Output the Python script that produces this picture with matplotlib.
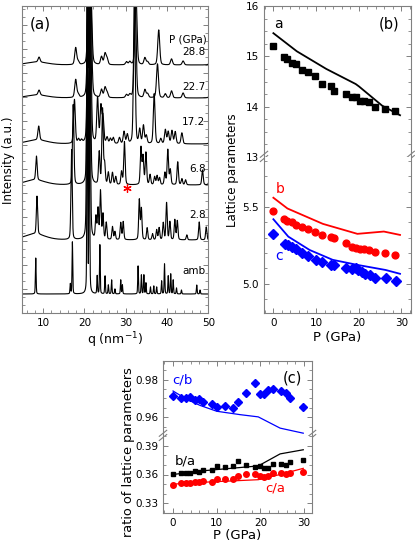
import numpy as np
import matplotlib
matplotlib.use("Agg")
import matplotlib.pyplot as plt
from matplotlib.ticker import MultipleLocator, NullFormatter

plt.rcParams['font.family'] = ['DejaVu Sans']

# ---------------- Panel (a): XRD patterns (peak lists) ----------
labels_a = ["amb", "2.8", "6.8", "17.2", "22.7", "28.8"]
offsets_a = [19, 73, 128, 169, 215, 248]
widths_a = [0.10, 0.18, 0.20, 0.24, 0.28, 0.28]

amb_pos = [8.23, 16.6, 17.1, 20.7, 21.2, 23.1, 23.75, 25.0, 25.8, 26.6, 27.4, 28.8, 29.2,
           33.0, 33.8, 34.4, 34.9, 36.0, 36.8, 37.5, 38.7, 39.4, 40.3, 40.9, 41.5, 42.3,
           43.5, 47.2, 48.0]
amb_hgt = [36, 10, 52, 300, 300, 18, 49, 18, 9, 14, 5, 14, 9,
           28, 19, 19, 11, 7, 8, 7, 13, 30, 18, 20, 14, 6,
           4, 9, 4]

p28_pos = [8.0, 8.53, 16.9, 20.7, 21.3, 22.8, 23.3, 23.9, 24.5, 25.3, 26.8, 27.4, 28.8, 29.4,
           33.3, 33.8, 35.2, 36.5, 37.5, 38.1, 39.1, 39.9, 40.7, 41.9, 42.5, 44.8, 47.8, 49.5]
p28_hgt = [6, 38, 90, 250, 250, 22, 30, 48, 25, 17, 13, 8, 17, 18,
           40, 31, 12, 6, 10, 12, 17, 37, 18, 20, 19, 5, 18, 13]

p68_pos = [8.0, 8.4, 17.3, 20.8, 21.35, 23.6, 24.4, 24.9, 25.8, 26.8, 27.6, 29.0, 29.7,
           33.7, 34.2, 34.9, 35.9, 37.0, 37.6, 38.2, 39.5, 40.2, 40.8, 42.6, 43.6, 44.5,
           48.6, 50.4]
p68_hgt = [5, 24, 80, 200, 200, 32, 75, 20, 12, 12, 8, 13, 43,
           37, 28, 32, 10, 8, 9, 7, 12, 35, 15, 23, 6, 5,
           15, 16]

p172_pos = [8.5, 8.95, 17.6, 18.6, 19.3, 20.9, 21.45, 23.2, 24.0, 24.5, 25.5, 26.3, 27.0,
            28.5, 29.6, 30.4, 32.1, 33.4, 34.3, 35.0, 36.9, 38.5, 39.6, 40.3, 41.2, 42.0,
            43.6, 50.6]
p172_hgt = [4, 14, 44, 4, 3, 150, 150, 45, 36, 26, 6, 5, 6,
            6, 12, 9, 150, 14, 18, 8, 50, 5, 14, 12, 13, 12,
            11, 16]

p227_pos = [8.5, 9.03, 17.9, 18.5, 20.95, 21.55, 24.15, 25.0, 25.5, 30.2, 31.0, 32.3,
            34.65, 35.3, 37.7, 39.6, 41.1, 43.9, 50.6]
p227_hgt = [3, 5, 18, 3, 100, 100, 8, 10, 5, 3, 3, 100,
            8, 4, 34, 4, 7, 5, 12]

p288_pos = [8.5, 9.03, 17.9, 18.5, 21.0, 21.6, 24.15, 25.0, 25.5, 30.2, 31.0, 32.5,
            34.65, 35.3, 38.0, 41.1, 43.9, 50.6]
p288_hgt = [3, 5, 17, 3, 70, 70, 8, 11, 6, 3, 3, 70,
            7, 3, 35, 6, 4, 12]

hump_width = 3.0

# ---------------- Panel (b): lattice parameters -------------------------
P_exp = [0.0, 2.6, 3.3, 4.3, 5.2, 6.8, 8.2, 9.8, 11.5, 13.6, 14.3, 17.0, 18.5, 19.3,
         20.3, 21.2, 22.4, 23.8, 26.1, 28.6]
a_exp = [15.21, 14.98, 14.94, 14.87, 14.84, 14.73, 14.69, 14.61, 14.46, 14.41, 14.31,
         14.25, 14.20, 14.20, 14.12, 14.11, 14.10, 13.99, 13.96, 13.92]
b_exp = [5.476, 5.42, 5.411, 5.403, 5.385, 5.372, 5.355, 5.34, 5.32, 5.307, 5.297,
         5.268, 5.238, 5.234, 5.229, 5.225, 5.221, 5.21, 5.20, 5.19]
P_c = [0.0, 2.8, 3.4, 4.3, 5.3, 6.8, 8.2, 9.9, 11.5, 13.6, 14.3, 17.0, 18.5, 19.3,
       19.9, 20.7, 21.4, 22.6, 23.8, 26.3, 28.7]
c_exp = [5.325, 5.26, 5.25, 5.24, 5.225, 5.203, 5.18, 5.156, 5.145, 5.12, 5.12, 5.105,
         5.095, 5.10, 5.087, 5.076, 5.065, 5.057, 5.037, 5.037, 5.02]

P_a_calc = [0.0, 5.5, 12.4, 19.3, 20.1, 25.5, 29.7]
a_calc = [15.46, 15.10, 14.75, 14.45, 14.40, 14.02, 13.83]
P_b_calc = [0.0, 3.3, 11.6, 19.7, 25.9, 29.7]
b_calc = [5.56, 5.49, 5.39, 5.325, 5.34, 5.318]
P_c_calc = [0.0, 3.5, 8.5, 13.9, 19.7, 26.3, 29.7]
c_calc = [5.42, 5.307, 5.22, 5.156, 5.123, 5.09, 5.065]

# ---------------- Panel (c): ratios --------------------------------------
P_r = [0.0, 1.8, 2.9, 3.9, 5.0, 5.9, 6.9, 8.9, 10.0, 11.9, 13.8, 14.8, 16.8, 18.8,
       19.9, 20.9, 21.8, 22.8, 24.7, 25.8, 26.8, 29.8]
cb_exp = [0.9714, 0.9703, 0.9700, 0.9708, 0.9692, 0.9697, 0.9680, 0.9672, 0.9652,
          0.9658, 0.9647, 0.9683, 0.9731, 0.9785, 0.9726, 0.9724, 0.9746, 0.9750,
          0.9740, 0.9731, 0.9700, 0.9654]
ba_exp = [0.3600, 0.3618, 0.3618, 0.3618, 0.3632, 0.3629, 0.3650, 0.3650, 0.3689,
          0.3682, 0.3689, 0.3743, 0.3700, 0.3682, 0.3689, 0.3671, 0.3671, 0.3714,
          0.3714, 0.3700, 0.3729, 0.3753]
ca_exp = [0.3493, 0.3511, 0.3514, 0.3511, 0.3522, 0.3522, 0.3536, 0.3525, 0.3557,
          0.3557, 0.3557, 0.3582, 0.3604, 0.3604, 0.3589, 0.3575, 0.3589, 0.3618,
          0.3618, 0.3604, 0.3618, 0.3625]
P_r_calc = [0.0, 3.1, 6.2, 10.0, 15.3, 19.5, 24.5, 29.8]
cb_calc = [0.9740, 0.9696, 0.9663, 0.9632, 0.9614, 0.9602, 0.9542, 0.9515]
P_r_calc2 = [0.0, 6.2, 19.5, 24.5, 29.8]
ba_calc = [0.3600, 0.3636, 0.3689, 0.3814, 0.3857]
ca_calc = [0.3500, 0.3518, 0.3546, 0.3600, 0.3664]

RED = '#ff0000'
BLUE = '#0000ff'
SPINE = '#808080'
W, H = 415, 547
TICK_FS = 7.5

fig = plt.figure(figsize=(W / 100, H / 100), dpi=100)


def rect(x0, x1, y0, y1):
    return [x0 / W, 1 - y1 / H, (x1 - x0) / W, (y1 - y0) / H]


def style(ax, top=True, bottom=True):
    for s in ax.spines.values():
        s.set_color(SPINE)
        s.set_linewidth(0.8)
    ax.tick_params(which='both', direction='in', colors=SPINE, labelcolor='black',
                   labelsize=TICK_FS, top=top, bottom=bottom, left=True, right=True)
    ax.tick_params(which='major', length=3.5, width=0.7)
    ax.tick_params(which='minor', length=2, width=0.6)


def pv(q, pos, hgt, w):
    y = np.zeros_like(q)
    for p, h in zip(pos, hgt):
        ww = hump_width if (p in (8.0, 8.5) and h <= 6) else w
        x = (q - p) / ww
        y += h * (0.7 * np.exp(-np.log(2) * x * x) + 0.3 / (1 + x * x))
    return y


# ---------------- Panel (a) ----------------
axa = fig.add_axes(rect(22.4, 208.3, 6, 313))
q = np.linspace(5, 50, 4000)
pos_all = [amb_pos, p28_pos, p68_pos, p172_pos, p227_pos, p288_pos]
hgt_all = [amb_hgt, p28_hgt, p68_hgt, p172_hgt, p227_hgt, p288_hgt]
for pos, hgt, off, w in zip(pos_all, hgt_all, offsets_a, widths_a):
    axa.plot(q, off + pv(q, pos, hgt, w), color='black', lw=0.8)
axa.set_xlim(5, 50)
axa.set_ylim(0, 307)
axa.xaxis.set_major_locator(MultipleLocator(10))
axa.xaxis.set_minor_locator(MultipleLocator(2))
axa.yaxis.set_major_locator(MultipleLocator(24))
axa.yaxis.set_minor_locator(MultipleLocator(8))
axa.yaxis.set_major_formatter(NullFormatter())
style(axa)
axa.set_xlabel(r'q (nm$^{-1}$)', fontsize=9, labelpad=2)
fig.text(8.5 / W, 1 - 160 / H, 'Intensity (a.u.)', rotation=90, fontsize=8.6,
         ha='center', va='center')
axa.text(0.04, 0.94, '(a)', transform=axa.transAxes, fontsize=11, va='center', ha='left')
lab_y = [271, 215, 169, 122, 87, 52]
for lab, yy in zip(labels_a, lab_y):
    axa.text(0.985, 1 - (yy - 6) / 307, lab, transform=axa.transAxes, fontsize=7.5,
             ha='right', va='center')
axa.text(0.99, 1 - (39 - 6) / 307, 'P (GPa)', transform=axa.transAxes, fontsize=7.5,
         ha='right', va='center')
axa.plot([30.2], [125], marker=(6, 2, 0), color=RED, ms=6, mew=0.9, ls='none')

# ---------------- Panel (b) ----------------
axb1 = fig.add_axes(rect(264, 410.7, 6, 157))
axb2 = fig.add_axes(rect(264, 410.7, 157, 313))
axb1.plot(P_a_calc, a_calc, color='black', lw=1.3)
axb1.plot(P_exp, a_exp, 's', color='black', ms=4.4)
axb2.plot(P_b_calc, b_calc, color=RED, lw=1.3)
axb2.plot(P_exp, b_exp, 'o', color=RED, ms=4.9)
axb2.plot(P_c_calc, c_calc, color=BLUE, lw=1.3)
axb2.plot(P_c, c_exp, 'D', color=BLUE, ms=5.0)
for ax in (axb1, axb2):
    ax.set_xlim(-2.2, 32.2)
    ax.xaxis.set_major_locator(MultipleLocator(10))
    ax.xaxis.set_minor_locator(MultipleLocator(2))
axb1.set_ylim(13, 16)
axb1.yaxis.set_major_locator(MultipleLocator(1))
axb1.yaxis.set_minor_locator(MultipleLocator(0.25))
axb2.set_ylim(4.81, 5.825)
axb2.yaxis.set_major_locator(MultipleLocator(0.5))
axb2.yaxis.set_minor_locator(MultipleLocator(0.1))
axb2.yaxis.set_major_formatter(plt.FormatStrFormatter('%.1f'))
style(axb1, top=True, bottom=False)
style(axb2, top=False, bottom=True)
axb1.spines['bottom'].set_visible(False)
axb2.spines['top'].set_visible(False)
axb1.tick_params(labelbottom=False)
axb2.set_xlabel('P (GPa)', fontsize=9.5, labelpad=2)
axb1.text(0.1, 0.88, 'a', transform=axb1.transAxes, fontsize=10, ha='center', va='center')
axb1.text(0.85, 0.88, '(b)', transform=axb1.transAxes, fontsize=10.5, ha='center', va='center')
axb2.text(0.11, 0.795, 'b', transform=axb2.transAxes, fontsize=10, color=RED,
          ha='center', va='center')
axb2.text(0.105, 0.365, 'c', transform=axb2.transAxes, fontsize=10, color=BLUE,
          ha='center', va='center')
fig.text(232 / W, 1 - 170 / H, 'Lattice parameters', rotation=90, fontsize=8.6,
         ha='center', va='center')


def breaks(ax_up, hfrac):
    dx, dy = 0.025, 0.02 / hfrac
    for xc in (0, 1):
        for sh in (-0.5 * dy, 0.9 * dy):
            ax_up.plot([xc - dx, xc + dx], [sh - dy, sh + dy], transform=ax_up.transAxes,
                       color=SPINE, lw=0.8, clip_on=False)


breaks(axb1, 1.0)

# ---------------- Panel (c) ----------------
axc1 = fig.add_axes(rect(163, 312, 361, 436))
axc2 = fig.add_axes(rect(163, 312, 436, 513))
axc1.plot(P_r_calc, cb_calc, color=BLUE, lw=0.9)
axc1.plot(P_r, cb_exp, 'D', color=BLUE, ms=4.2)
axc2.plot(P_r_calc2, ba_calc, color='black', lw=0.9)
axc2.plot(P_r, ba_exp, 's', color='black', ms=3.4)
axc2.plot(P_r_calc2, ca_calc, color=RED, lw=0.9)
axc2.plot(P_r, ca_exp, 'o', color=RED, ms=4.0)
for ax in (axc1, axc2):
    ax.set_xlim(-2.3, 31.8)
    ax.xaxis.set_major_locator(MultipleLocator(10))
    ax.xaxis.set_minor_locator(MultipleLocator(2))
axc1.set_ylim(0.95, 0.99)
axc1.yaxis.set_major_locator(MultipleLocator(0.02))
axc1.yaxis.set_minor_locator(MultipleLocator(0.005))
axc1.yaxis.set_major_formatter(plt.FormatStrFormatter('%.2f'))
axc2.set_ylim(0.32, 0.40)
axc2.yaxis.set_major_locator(MultipleLocator(0.03))
axc2.yaxis.set_minor_locator(MultipleLocator(0.01))
axc2.yaxis.set_major_formatter(plt.FormatStrFormatter('%.2f'))
style(axc1, top=True, bottom=False)
style(axc2, top=False, bottom=True)
axc1.spines['bottom'].set_visible(False)
axc2.spines['top'].set_visible(False)
axc1.tick_params(labelbottom=False)
axc2.set_xlabel('P (GPa)', fontsize=9.5, labelpad=1)
axc1.text(0.13, 0.75, 'c/b', transform=axc1.transAxes, fontsize=9.5, color=BLUE,
          ha='center', va='center')
axc1.text(0.87, 0.77, '(c)', transform=axc1.transAxes, fontsize=10.5, ha='center', va='center')
axc2.text(0.15, 0.68, 'b/a', transform=axc2.transAxes, fontsize=9.5, color='black',
          ha='center', va='center')
axc2.text(0.75, 0.32, 'c/a', transform=axc2.transAxes, fontsize=9.5, color=RED,
          ha='center', va='center')
fig.text(128 / W, 1 - 452 / H, 'ratio of lattice parameters', rotation=90, fontsize=9.3,
         ha='center', va='center')
breaks(axc1, 0.5)

fig.savefig('out.png', dpi=100)
